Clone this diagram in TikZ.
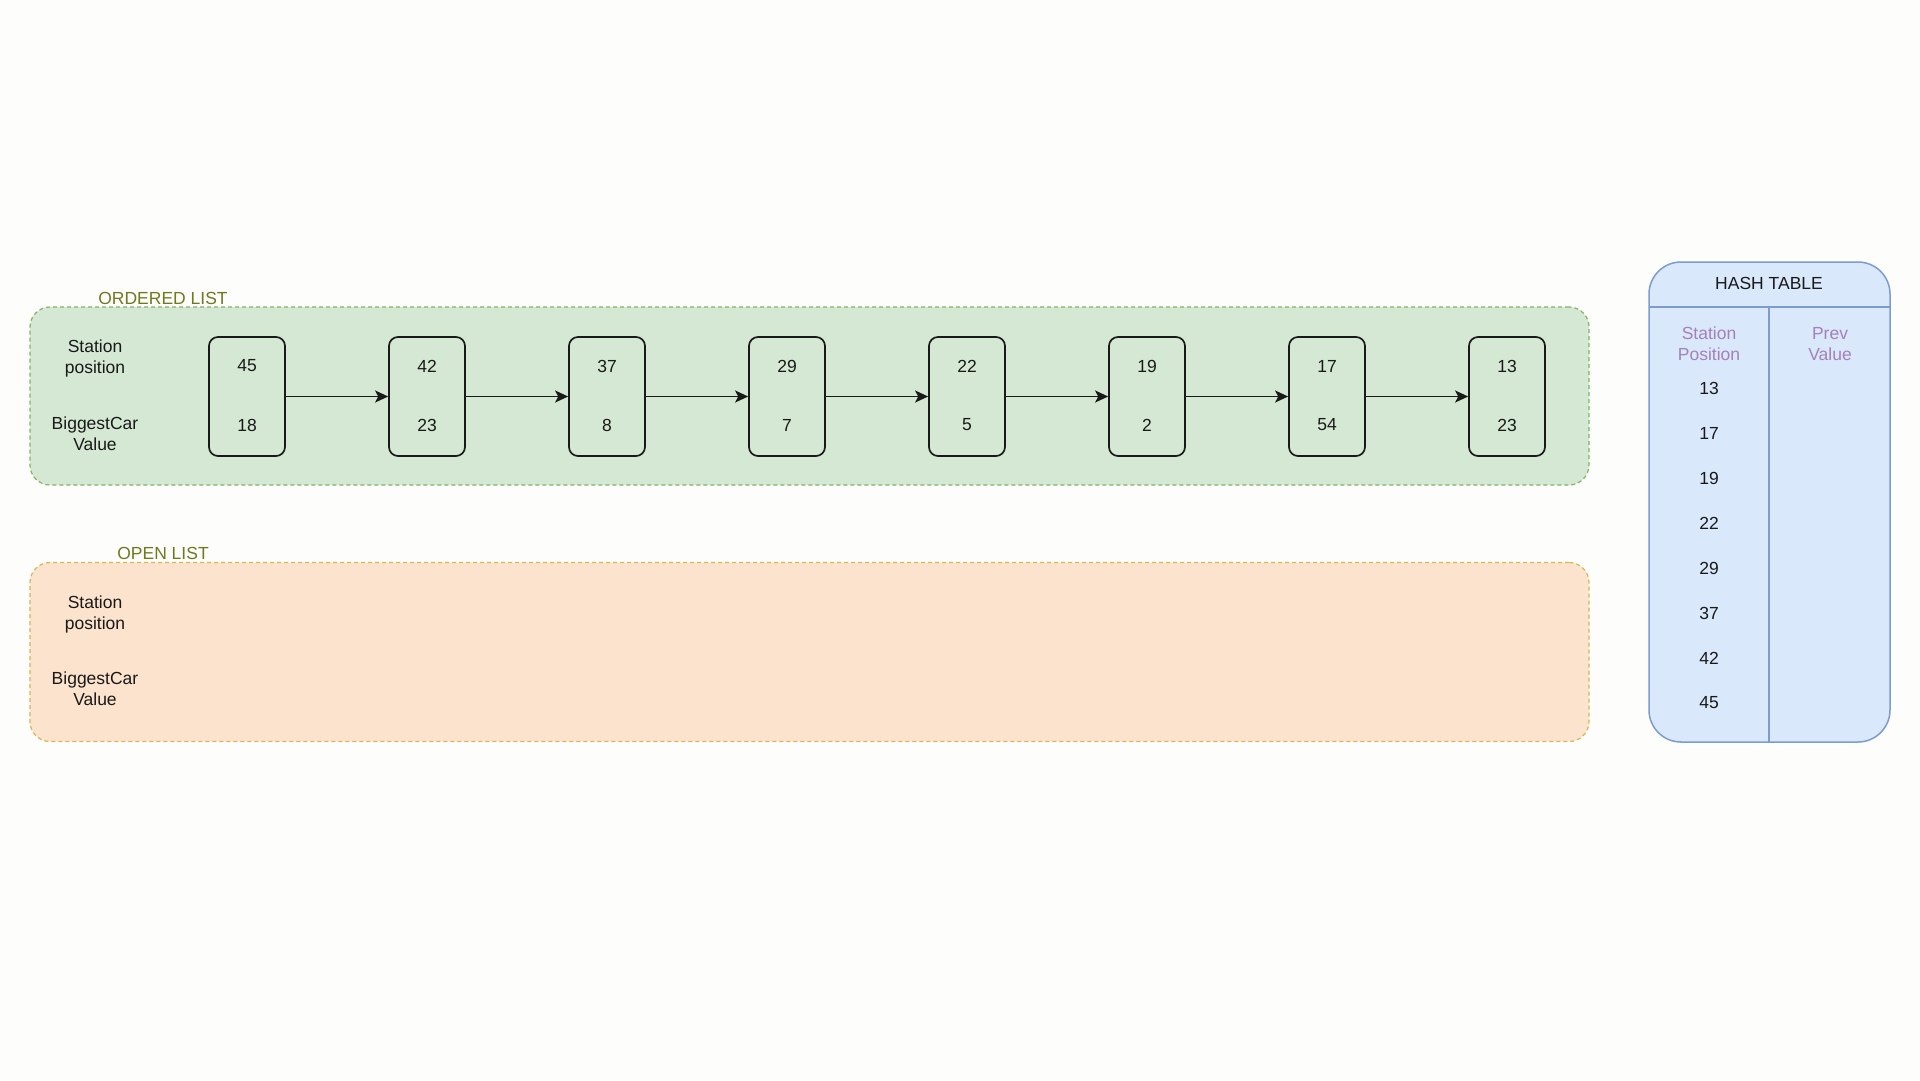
\documentclass[tikz,border=0pt]{standalone}
\usepackage{fontspec}
\setmainfont{Liberation Sans}
\usetikzlibrary{arrows.meta}
\definecolor{bg}{HTML}{FDFDFB}
\definecolor{greenfill}{HTML}{D5E8D4}
\definecolor{greenline}{HTML}{82B366}
\definecolor{olivetxt}{HTML}{6F7A1E}
\definecolor{orangefill}{HTML}{FCE3CD}
\definecolor{orangeline}{HTML}{D6B656}
\definecolor{bluefill}{HTML}{DAE8FC}
\definecolor{blueline}{HTML}{7C9CCF}
\definecolor{purp}{HTML}{A680B8}
\tikzset{
  container/.style={draw, line width=1.2pt, dash pattern=on 4pt off 3pt, rounded corners=20pt, minimum width=1559pt, inner sep=0},
  txt/.style={font=\fontsize{17.5}{21}\selectfont, align=center, inner sep=0, text=black!90},
  ttl/.style={font=\fontsize{17.5}{21}\selectfont, inner sep=0, text=olivetxt},
  nbox/.style={draw=black!90, line width=1.7pt, rounded corners=9pt, minimum width=76pt, minimum height=119pt, inner sep=0},
  link/.style={draw=black!90, line width=1.6pt, -{Stealth[length=13pt,width=12pt,inset=3pt]}}
}
\begin{document}
\begin{tikzpicture}[x=1pt,y=-1pt]
\fill[bg] (0,0) rectangle (1920,1080);
\useasboundingbox (0,0) rectangle (1920,1080);

% containers
\node[container, draw=greenline, fill=greenfill, minimum height=178pt] (ordered) at (809.5,396) {};
\node[ttl] (orderedttl) at (163,298) {ORDERED LIST};
\node[container, draw=orangeline, fill=orangefill, minimum height=179pt] (open) at (809.5,652) {};
\node[ttl] (openttl) at (163,553) {OPEN LIST};

% row labels
\node[txt] (ospos) at (95,358) {Station\\position};
\node[txt] (obig) at (95,434) {BiggestCar\\Value};
\node[txt] (pspos) at (95,614) {Station\\position};
\node[txt] (pbig) at (95,689) {BiggestCar\\Value};

% list nodes
\foreach \i/\t/\b in {1/45/18,2/42/23,3/37/8,4/29/7,5/22/5,6/19/2,7/17/54,8/13/23}{
  \node[nbox] (b\i) at ({247+180*(\i-1)},396.5) {};
  \node[txt] (t\i) at ({247+180*(\i-1)},366) {\t};
  \node[txt] (v\i) at ({247+180*(\i-1)},425) {\b};
}
\foreach \i [evaluate=\i as \j using int(\i+1)] in {1,...,7}{
  \draw[link] (b\i.east) -- (b\j.west);
}

% hash table
\node[draw=blueline, fill=bluefill, line width=1.5pt, rounded corners=32pt, minimum width=241pt, minimum height=480pt, inner sep=0] (hash) at (1769.5,502) {};
\draw[blueline, line width=1.5pt] (1649,307) -- (1890,307);
\draw[blueline, line width=1.5pt] (1769,307) -- (1769,742);
\node[txt] (hashttl) at (1769,283) {HASH TABLE};
\node[txt, text=purp] (hcol1) at (1709,344) {Station\\Position};
\node[txt, text=purp] (hcol2) at (1830,344) {Prev\\Value};
\foreach \v [count=\k from 0] in {13,17,19,22,29,37,42,45}{
  \node[txt] (h\v) at (1709,{388+45*\k}) {\v};
}
\end{tikzpicture}
\end{document}
